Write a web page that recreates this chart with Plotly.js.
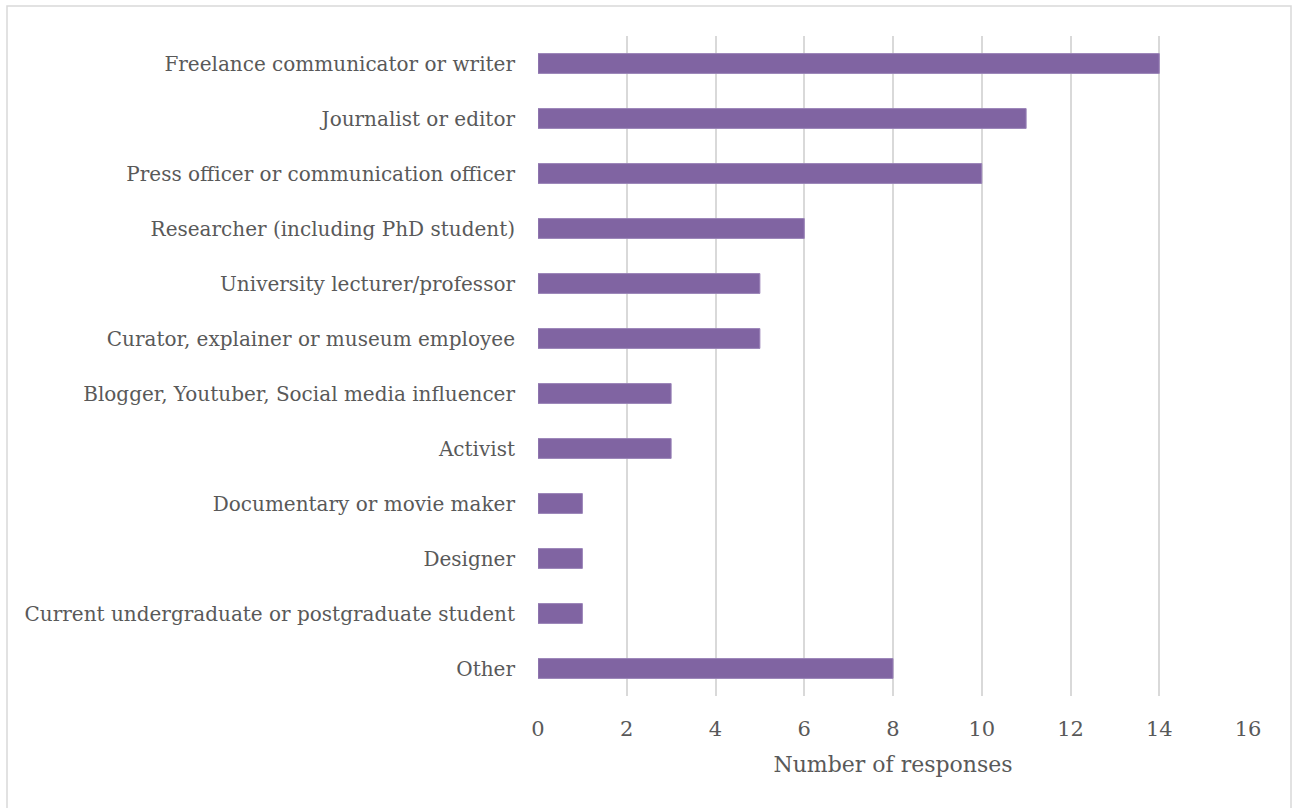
<!DOCTYPE html>
<html><head><meta charset="utf-8">
<script src="https://cdn.plot.ly/plotly-3.0.1.min.js"></script>
<style>html,body{margin:0;padding:0;background:#fff;}#chart{width:1292px;height:808px;}</style>
</head><body><div id="chart"></div>
<script>
const categories = [
  "Freelance communicator or writer",
  "Journalist or editor",
  "Press officer or communication officer",
  "Researcher (including PhD student)",
  "University lecturer/professor",
  "Curator, explainer or museum employee",
  "Blogger, Youtuber, Social media influencer",
  "Activist",
  "Documentary or movie maker",
  "Designer",
  "Current undergraduate or postgraduate student",
  "Other"
];
const responses = [14, 11, 10, 6, 5, 5, 3, 3, 1, 1, 1, 8];
const xTicks = [0, 2, 4, 6, 8, 10, 12, 14, 16];

const font = "'DejaVu Serif', serif";
const textColor = "#595959";

Plotly.newPlot("chart", [{
  type: "bar",
  orientation: "h",
  y: categories,
  x: responses,
  marker: {color: "#8064A2", line: {color: "#9a83b8", width: 1}},
  hoverinfo: "x+y"
}], {
  width: 1292, height: 808,
  margin: {l: 538, r: 44, t: 36, b: 112},
  paper_bgcolor: "#fff", plot_bgcolor: "#fff",
  bargap: 0.64,
  showlegend: false,
  font: {family: font, color: textColor, size: 20},
  xaxis: {
    range: [0, 16], tickvals: xTicks, ticktext: xTicks.map(String),
    showgrid: true, gridcolor: "#d9d9d9", gridwidth: 2,
    zeroline: false, showline: false, ticks: "",
    ticklabelstandoff: 18,
    tickfont: {family: font, size: 21, color: textColor},
    title: {text: "Number of responses", font: {family: font, size: 22, color: textColor}, standoff: 16}
  },
  yaxis: {
    type: "category", autorange: "reversed",
    showgrid: false, zeroline: false, showline: false, ticks: "",
    ticklabelstandoff: 22,
    tickfont: {family: font, size: 20, color: textColor}
  },
  shapes: [{
    type: "rect", xref: "paper", yref: "paper",
    x0: (7 - 538) / 710, x1: (1291 - 538) / 710,
    y0: -(830 - 696) / 660, y1: 1 + (36 - 6) / 660,
    line: {color: "#d9d9d9", width: 1.5}, fillcolor: "rgba(0,0,0,0)", layer: "below"
  }]
}, {displayModeBar: false, staticPlot: false});
</script></body></html>
